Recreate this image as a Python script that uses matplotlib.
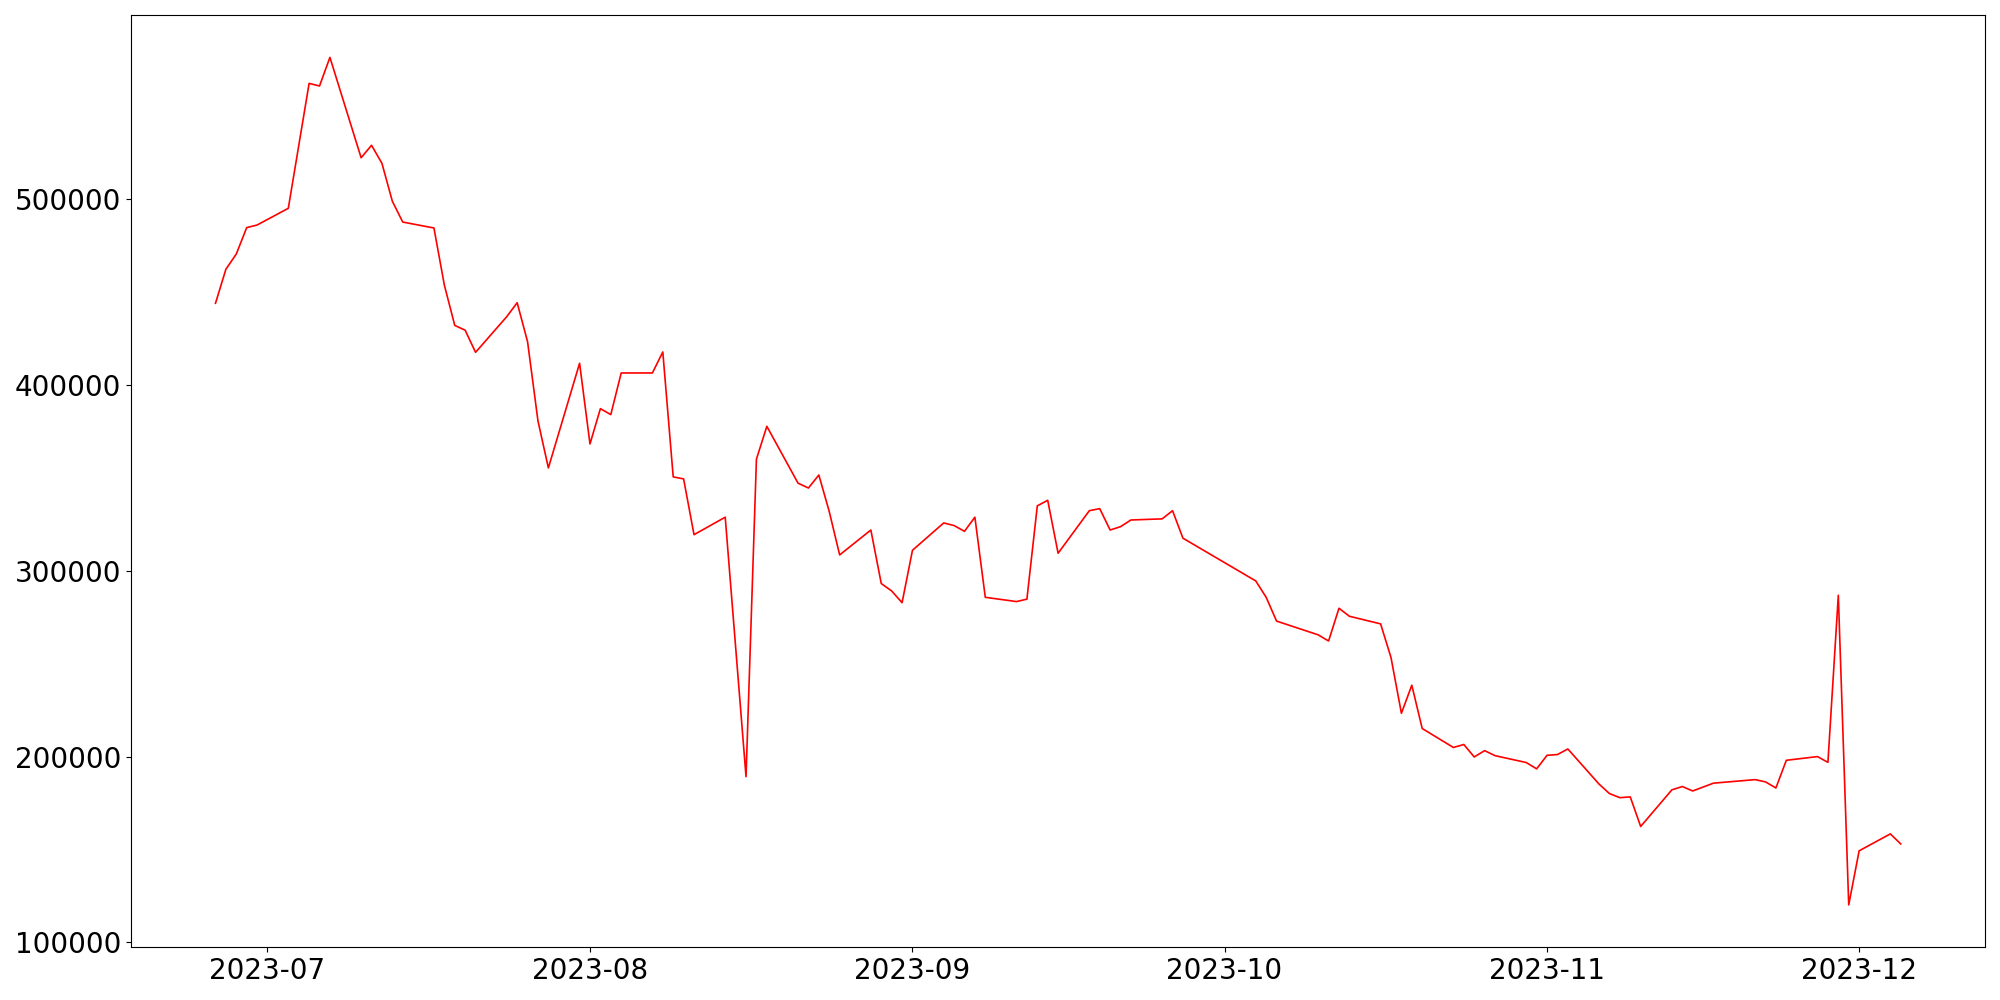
import matplotlib
matplotlib.use('Agg')
import matplotlib.pyplot as plt
import pandas as pd

# trading days
dates = ['2023-06-26', '2023-06-27', '2023-06-28', '2023-06-29', '2023-06-30',
         '2023-07-03', '2023-07-05', '2023-07-06', '2023-07-07',
         '2023-07-10', '2023-07-11', '2023-07-12', '2023-07-13', '2023-07-14',
         '2023-07-17', '2023-07-18', '2023-07-19', '2023-07-20', '2023-07-21',
         '2023-07-24', '2023-07-25', '2023-07-26', '2023-07-27', '2023-07-28',
         '2023-07-31', '2023-08-01', '2023-08-02', '2023-08-03', '2023-08-04',
         '2023-08-07', '2023-08-08', '2023-08-09', '2023-08-10', '2023-08-11',
         '2023-08-14', '2023-08-16', '2023-08-17', '2023-08-18',
         '2023-08-21', '2023-08-22', '2023-08-23', '2023-08-24', '2023-08-25',
         '2023-08-28', '2023-08-29', '2023-08-30', '2023-08-31', '2023-09-01',
         '2023-09-04', '2023-09-05', '2023-09-06', '2023-09-07', '2023-09-08',
         '2023-09-11', '2023-09-12', '2023-09-13', '2023-09-14', '2023-09-15',
         '2023-09-18', '2023-09-19', '2023-09-20', '2023-09-21', '2023-09-22',
         '2023-09-25', '2023-09-26', '2023-09-27',
         '2023-10-04', '2023-10-05', '2023-10-06',
         '2023-10-10', '2023-10-11', '2023-10-12', '2023-10-13',
         '2023-10-16', '2023-10-17', '2023-10-18', '2023-10-19', '2023-10-20',
         '2023-10-23', '2023-10-24', '2023-10-25', '2023-10-26', '2023-10-27',
         '2023-10-30', '2023-10-31', '2023-11-01', '2023-11-02', '2023-11-03',
         '2023-11-06', '2023-11-07', '2023-11-08', '2023-11-09', '2023-11-10',
         '2023-11-13', '2023-11-14', '2023-11-15', '2023-11-17',
         '2023-11-21', '2023-11-22', '2023-11-23', '2023-11-24',
         '2023-11-27', '2023-11-28', '2023-11-29', '2023-11-30', '2023-12-01',
         '2023-12-04', '2023-12-05']

values = [443900, 462200, 470400, 484600, 486000,
          495000, 562200, 560800, 576200,
          522200, 528900, 519200, 498800, 487600,
          484400, 453700, 432000, 429400, 417500,
          436700, 444200, 423200, 380600, 355300,
          411600, 368200, 387200, 384000, 406400,
          406400, 417700, 350500, 349400, 319400,
          328800, 189200, 360000, 377700,
          347100, 344500, 351500, 331800, 308500,
          321900, 293100, 289100, 282800, 311000,
          325700, 324300, 321200, 328800, 285700,
          283400, 284700, 334900, 337900, 309400,
          332300, 333400, 321900, 323700, 327300,
          327900, 332300, 317500,
          294500, 285700, 272900,
          265500, 262200, 279800, 275500,
          271400, 253300, 223300, 238400, 215100,
          204900, 206500, 199800, 203200, 200500,
          196800, 193400, 200700, 201100, 204100,
          185200, 180100, 177900, 178300, 162400,
          182100, 183900, 181500, 185700,
          187600, 186400, 183100, 198000,
          200000, 196900, 286800, 120200, 149300,
          158400, 153000]

def main():
    x = pd.to_datetime(dates)

    fig, ax = plt.subplots(figsize=(20, 10), dpi=100)
    ax.plot(x, values, color='red', linewidth=1.2)
    ax.tick_params(axis='both', labelsize=20)

    plt.tight_layout()
    plt.savefig('out.png')

if __name__ == '__main__':
    main()
